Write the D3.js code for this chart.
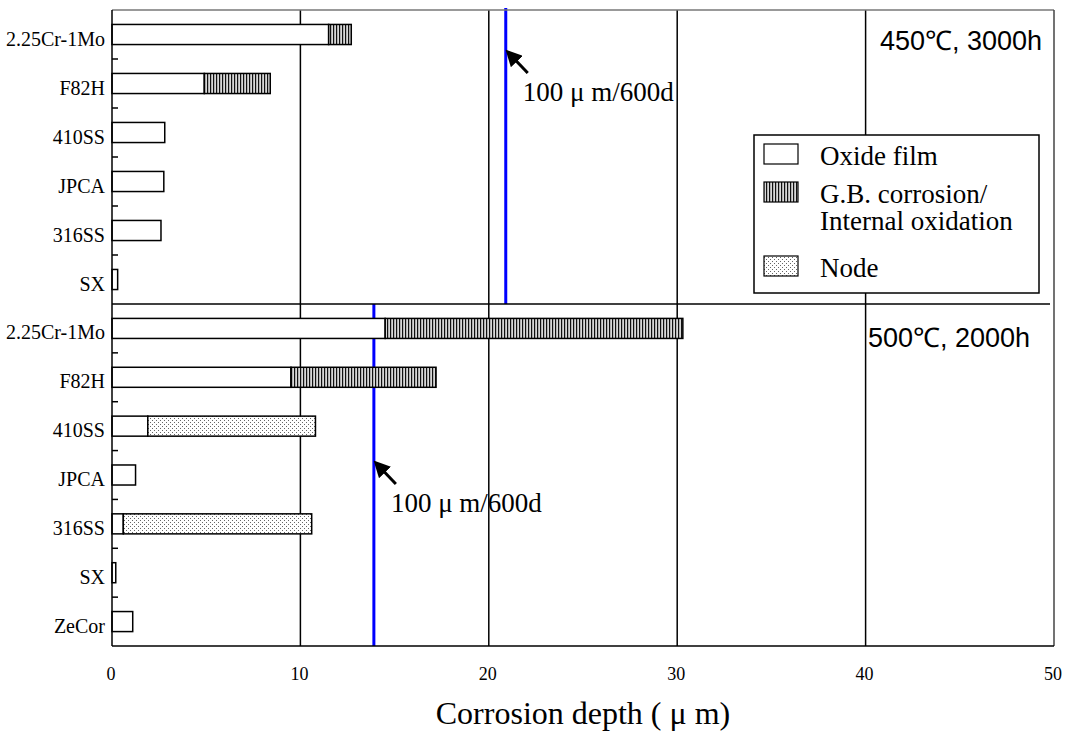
<!DOCTYPE html>
<html>
<head>
<meta charset="utf-8">
<script src="https://cdn.jsdelivr.net/npm/d3@7"></script>
<style>
    body { margin: 0; background: #fff; }
    svg { display: block; }
</style>
</head>
<body>
<div id="chart"></div>
<script>
// Chart data (corrosion depth in micrometres)
const topCategories = ['2.25Cr-1Mo', 'F82H', '410SS', 'JPCA', '316SS', 'SX'];
const topOxide = [11.5, 4.9, 2.8, 2.75, 2.6, 0.3];
const topGB = [1.2, 3.5, 0, 0, 0, 0];
const topNode = [0, 0, 0, 0, 0, 0];

const bottomCategories = ['2.25Cr-1Mo', 'F82H', '410SS', 'JPCA', '316SS', 'SX', 'ZeCor'];
const bottomOxide = [14.5, 9.5, 1.9, 1.25, 0.6, 0.2, 1.1];
const bottomGB = [15.8, 7.7, 0, 0, 0, 0, 0];
const bottomNode = [0, 0, 8.9, 0, 10.0, 0, 0];

const xTicks = [0, 10, 20, 30, 40, 50];
const panelLabels = ['450\u2103, 3000h', '500\u2103, 2000h'];
const rateLines = [20.9, 13.9];   // 100 um / 600 d over 3000 h and 2000 h
const rateLabel = '100 \u03bc m/600d';
const legendLabels = ['Oxide film', 'G.B. corrosion/\nInternal oxidation', 'Node'];
const xTitle = 'Corrosion depth ( \u03bc m)';

const width = 1066;
const height = 736;
const plotLeft = 112, plotRight = 1054, plotTop = 10, plotMid = 304, plotBottom = 646;

const svg = d3.select('#chart')
    .append('svg')
    .attr('width', width)
    .attr('height', height);

svg.append('rect').attr('width', width).attr('height', height).attr('fill', '#fff');

// Patterns for the bar segments
const defs = svg.append('defs');
const hatch = defs.append('pattern')
    .attr('id', 'hatch')
    .attr('patternUnits', 'userSpaceOnUse')
    .attr('width', 3).attr('height', 4);
hatch.append('rect').attr('width', 3).attr('height', 4).attr('fill', '#d8d8d8');
hatch.append('rect').attr('width', 1.2).attr('height', 4).attr('fill', '#111');

const dots = defs.append('pattern')
    .attr('id', 'dots')
    .attr('patternUnits', 'userSpaceOnUse')
    .attr('width', 4).attr('height', 4);
dots.append('rect').attr('width', 4).attr('height', 4).attr('fill', '#fff');
dots.append('rect').attr('x', 0).attr('y', 0).attr('width', 1).attr('height', 1).attr('fill', '#666');
dots.append('rect').attr('x', 2).attr('y', 2).attr('width', 1).attr('height', 1).attr('fill', '#666');

defs.append('marker')
    .attr('id', 'arrow')
    .attr('viewBox', '0 0 10 10')
    .attr('refX', 8).attr('refY', 5)
    .attr('markerWidth', 5.5).attr('markerHeight', 5.5)
    .attr('orient', 'auto')
    .append('path')
    .attr('d', 'M0,0L10,5L0,10z')
    .attr('fill', '#000');

// Scales
const x = d3.scaleLinear().domain([0, 50]).range([plotLeft, plotRight]);
const yTop = d3.scaleBand().domain(topCategories).range([plotTop, plotMid]).padding(0);
const yBottom = d3.scaleBand().domain(bottomCategories).range([plotMid, plotBottom]).padding(0);

const fills = { oxide: '#fff', gb: 'url(#hatch)', node: 'url(#dots)' };
const stack = d3.stack().keys(['oxide', 'gb', 'node']);

// Vertical grid lines
svg.append('g')
    .selectAll('line')
    .data(xTicks.slice(1, -1))
    .enter().append('line')
    .attr('x1', d => x(d)).attr('x2', d => x(d))
    .attr('y1', plotTop).attr('y2', plotBottom)
    .attr('stroke', '#000')
    .attr('stroke-width', 1.5);

function drawPanel(cats, oxide, gb, node, y, rate, label, labelX, labelY, arrowTip) {
    const rows = cats.map((c, i) => ({ cat: c, oxide: oxide[i], gb: gb[i], node: node[i] }));
    const series = stack(rows);
    const barH = y.bandwidth() * 0.41;

    // Rate line
    svg.append('line')
        .attr('x1', x(rate)).attr('x2', x(rate))
        .attr('y1', y.range()[0] === plotTop ? 8 : plotMid).attr('y2', y.range()[1])
        .attr('stroke', '#0000ff')
        .attr('stroke-width', 3);

    const g = svg.append('g');
    series.forEach(s => {
        g.selectAll(null)
            .data(s.filter(d => d[1] > d[0]))
            .enter().append('rect')
            .attr('x', d => x(d[0]))
            .attr('width', d => x(d[1]) - x(d[0]))
            .attr('y', d => y(d.data.cat) + (y.bandwidth() - barH) / 2)
            .attr('height', barH)
            .attr('fill', fills[s.key])
            .attr('stroke', '#000')
            .attr('stroke-width', 1.5);
    });

    // Category labels
    svg.append('g')
        .selectAll('text')
        .data(cats)
        .enter().append('text')
        .attr('x', plotLeft - 7)
        .attr('y', d => y(d) + y.bandwidth() / 2 + barH / 2 + 1)
        .attr('text-anchor', 'end')
        .attr('font-family', 'Liberation Serif, serif')
        .attr('font-size', 20)
        .text(d => d);

    // Inner ticks at band boundaries
    svg.append('g')
        .selectAll('line')
        .data(cats.slice(1))
        .enter().append('line')
        .attr('x1', plotLeft).attr('x2', plotLeft + 6)
        .attr('y1', d => y(d)).attr('y2', d => y(d))
        .attr('stroke', '#000')
        .attr('stroke-width', 1.5);

    // Panel condition label
    svg.append('text')
        .attr('x', labelX).attr('y', labelY)
        .attr('font-family', 'Liberation Sans, Arial, sans-serif')
        .attr('font-size', 27)
        .text(label);

    // Arrow and rate label
    svg.append('line')
        .attr('x1', arrowTip[0] + 20).attr('y1', arrowTip[1] + 21)
        .attr('x2', arrowTip[0]).attr('y2', arrowTip[1])
        .attr('stroke', '#000')
        .attr('stroke-width', 3)
        .attr('marker-end', 'url(#arrow)');

    svg.append('text')
        .attr('x', arrowTip[0] + 15).attr('y', arrowTip[1] + 49)
        .attr('font-family', 'Liberation Serif, serif')
        .attr('font-size', 27)
        .text(rateLabel);
}

drawPanel(topCategories, topOxide, topGB, topNode, yTop, rateLines[0],
    panelLabels[0], 880, 50, [x(rateLines[0]) + 2, 52]);
drawPanel(bottomCategories, bottomOxide, bottomGB, bottomNode, yBottom, rateLines[1],
    panelLabels[1], 868, 347, [x(rateLines[1]) + 2, 463]);

// Frame and panel divider
svg.append('line').attr('x1', plotLeft).attr('x2', plotRight).attr('y1', plotTop).attr('y2', plotTop)
    .attr('stroke', '#777').attr('stroke-width', 1.5);
svg.append('line').attr('x1', plotRight).attr('x2', plotRight).attr('y1', plotTop).attr('y2', plotBottom)
    .attr('stroke', '#444').attr('stroke-width', 1.5);
svg.append('line').attr('x1', plotLeft).attr('x2', plotLeft).attr('y1', plotTop).attr('y2', plotBottom)
    .attr('stroke', '#000').attr('stroke-width', 1.5);
svg.append('line').attr('x1', plotLeft).attr('x2', plotRight).attr('y1', plotBottom).attr('y2', plotBottom)
    .attr('stroke', '#000').attr('stroke-width', 1.5);
svg.append('line').attr('x1', plotLeft).attr('x2', plotRight - 4).attr('y1', plotMid).attr('y2', plotMid)
    .attr('stroke', '#000').attr('stroke-width', 1.5);

// X tick labels
svg.append('g')
    .selectAll('text')
    .data(xTicks)
    .enter().append('text')
    .attr('x', d => x(d) - 1)
    .attr('y', 680)
    .attr('text-anchor', 'middle')
    .attr('font-family', 'Liberation Serif, serif')
    .attr('font-size', 18)
    .text(d => d);

// X axis title
svg.append('text')
    .attr('x', x(25))
    .attr('y', 724)
    .attr('text-anchor', 'middle')
    .attr('font-family', 'Liberation Serif, serif')
    .attr('font-size', 32)
    .text(xTitle);

// Legend
const legend = svg.append('g').attr('transform', 'translate(754,135)');
legend.append('rect')
    .attr('width', 285).attr('height', 158)
    .attr('fill', '#fff')
    .attr('stroke', '#000')
    .attr('stroke-width', 1.5);

const legendRows = [
    { fill: fills.oxide, y: 30 },
    { fill: fills.gb, y: 68 },
    { fill: fills.node, y: 142 }
];
legendRows.forEach((r, i) => {
    legend.append('rect')
        .attr('x', 10).attr('y', r.y - 21)
        .attr('width', 34).attr('height', 20)
        .attr('fill', r.fill)
        .attr('stroke', '#000')
        .attr('stroke-width', 1.2);
    const t = legend.append('text')
        .attr('x', 66).attr('y', r.y)
        .attr('font-family', 'Liberation Serif, serif')
        .attr('font-size', 27);
    legendLabels[i].split('\n').forEach((line, j) => {
        t.append('tspan')
            .attr('x', 66)
            .attr('dy', j === 0 ? 0 : 27)
            .text(line);
    });
});
</script>
</body>
</html>
